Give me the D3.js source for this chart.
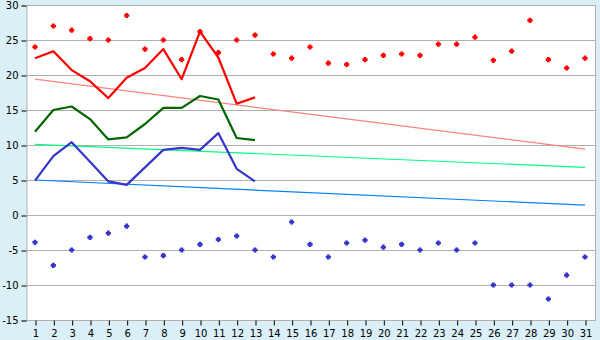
<!DOCTYPE html>
<html><head><meta charset="utf-8">
<script src="https://cdn.jsdelivr.net/npm/d3@7"></script>
<style>
html,body{margin:0;padding:0;background:#daeff6;}
svg{display:block;}
text{font-family:"DejaVu Sans",sans-serif;font-size:10px;fill:#000;}
</style></head>
<body>
<svg id="c" width="600" height="340"></svg>
<script>
const days = d3.range(1, 32);
const yTicks = [-15, -10, -5, 0, 5, 10, 15, 20, 25, 30];

// Scatter: daily max (red) and daily min (blue)
const maxPoints = [24, 27, 26.4, 25.2, 25, 28.5, 23.7, 25, 22.2, 26.2, 23.2, 25, 25.7, 23, 22.4, 24,
  21.7, 21.5, 22.2, 22.8, 23, 22.8, 24.4, 24.4, 25.4, 22.1, 23.4, 27.8, 22.2, 21, 22.4];
const minPoints = [-3.9, -7.2, -5, -3.2, -2.6, -1.6, -6, -5.8, -5, -4.2, -3.5, -3, -5, -6, -1, -4.2,
  -6, -4, -3.6, -4.6, -4.2, -5, -4, -5, -4, -10, -10, -10, -12, -8.6, -6];

// Lines for days 1..13
const maxLine = [22.4, 23.4, 20.7, 19.1, 16.7, 19.6, 21, 23.7, 19.4, 26.2, 22.5, 15.9, 16.8];
const meanLine = [11.9, 15, 15.5, 13.7, 10.8, 11.1, 13, 15.3, 15.3, 17, 16.5, 11, 10.7];
const minLine = [4.9, 8.4, 10.4, 7.6, 4.8, 4.3, 6.8, 9.3, 9.6, 9.3, 11.7, 6.6, 4.8];

// Trend lines (start at day 1, end at day 31)
const maxTrend = [19.4, 9.4];
const meanTrend = [10.1, 6.8];
const minTrend = [5.0, 1.4];

const svg = d3.select("#c");
const L = 27, R = 595, T = 5, B = 320;
const x = d3.scalePoint().domain(days).range([35, 585]);
const y = d3.scaleLinear().domain([-15, 30]).range([B, T]);

// plot background
svg.append("rect").attr("x", L).attr("y", T).attr("width", R - L).attr("height", B - T).attr("fill", "#fff");

// grid
svg.append("g").selectAll("line").data(yTicks).join("line")
  .attr("x1", L).attr("x2", R)
  .attr("y1", d => y(d) + 0.5).attr("y2", d => y(d) + 0.5)
  .attr("stroke", "#b0b0b0").attr("stroke-width", 1);
// right border
svg.append("line").attr("x1", R + 0.5).attr("x2", R + 0.5).attr("y1", T).attr("y2", B + 1)
  .attr("stroke", "#b0b0b0");

// y axis
const yAxis = d3.axisLeft(y).tickValues(yTicks).tickSize(5).tickPadding(3).tickFormat(d => String(d));
const gy = svg.append("g").attr("transform", `translate(${L - 0.5},0.5)`).call(yAxis);
gy.select(".domain").attr("stroke", "#b0b0b0").attr("stroke-width", 1);
gy.selectAll(".tick line").attr("stroke", "#000");
gy.selectAll("text").attr("font-size", 10).attr("font-family", "DejaVu Sans");

// x axis
const xAxis = d3.axisBottom(x).tickSize(5).tickPadding(4).tickFormat(d => String(d));
const gx = svg.append("g").attr("transform", `translate(0.5,${B + 0.5})`).call(xAxis);
gx.select(".domain").remove();
gx.selectAll(".tick line").attr("stroke", "#000");
gx.selectAll("text").attr("font-size", 10).attr("font-family", "DejaVu Sans");

// trend lines
function trend(vals, color) {
  svg.append("line")
    .attr("x1", x(days[0])).attr("y1", y(vals[0]))
    .attr("x2", x(days[days.length - 1])).attr("y2", y(vals[1]))
    .attr("stroke", color).attr("stroke-width", 1.2);
}
trend(maxTrend, "#ff8080");
trend(meanTrend, "#00ff80");
trend(minTrend, "#0080ff");

// lines
const line = d3.line().x((d, i) => x(days[i])).y(d => y(d));
function drawLine(vals, color) {
  svg.append("path").datum(vals).attr("d", line)
    .attr("fill", "none").attr("stroke", color).attr("stroke-width", 2.2)
    .attr("stroke-linejoin", "round");
}
drawLine(maxLine, "#ff0000");
drawLine(meanLine, "#006600");
drawLine(minLine, "#3535cc");

// markers: small plus/diamond shape
const plusShape = {
  draw(ctx, size) {
    const a = 2.6, b = 1.3;
    ctx.moveTo(-b, -a); ctx.lineTo(b, -a); ctx.lineTo(b, -b); ctx.lineTo(a, -b);
    ctx.lineTo(a, b); ctx.lineTo(b, b); ctx.lineTo(b, a); ctx.lineTo(-b, a);
    ctx.lineTo(-b, b); ctx.lineTo(-a, b); ctx.lineTo(-a, -b); ctx.lineTo(-b, -b);
    ctx.closePath();
  }
};
const sym = d3.symbol().type(plusShape);
function drawPoints(vals, color) {
  svg.append("g").selectAll("path").data(vals).join("path")
    .attr("d", sym)
    .attr("transform", (d, i) => `translate(${x(days[i])},${y(d)})`)
    .attr("fill", color);
}
drawPoints(maxPoints, "#ff0000");
drawPoints(minPoints, "#3535cc");
</script>
</body></html>
